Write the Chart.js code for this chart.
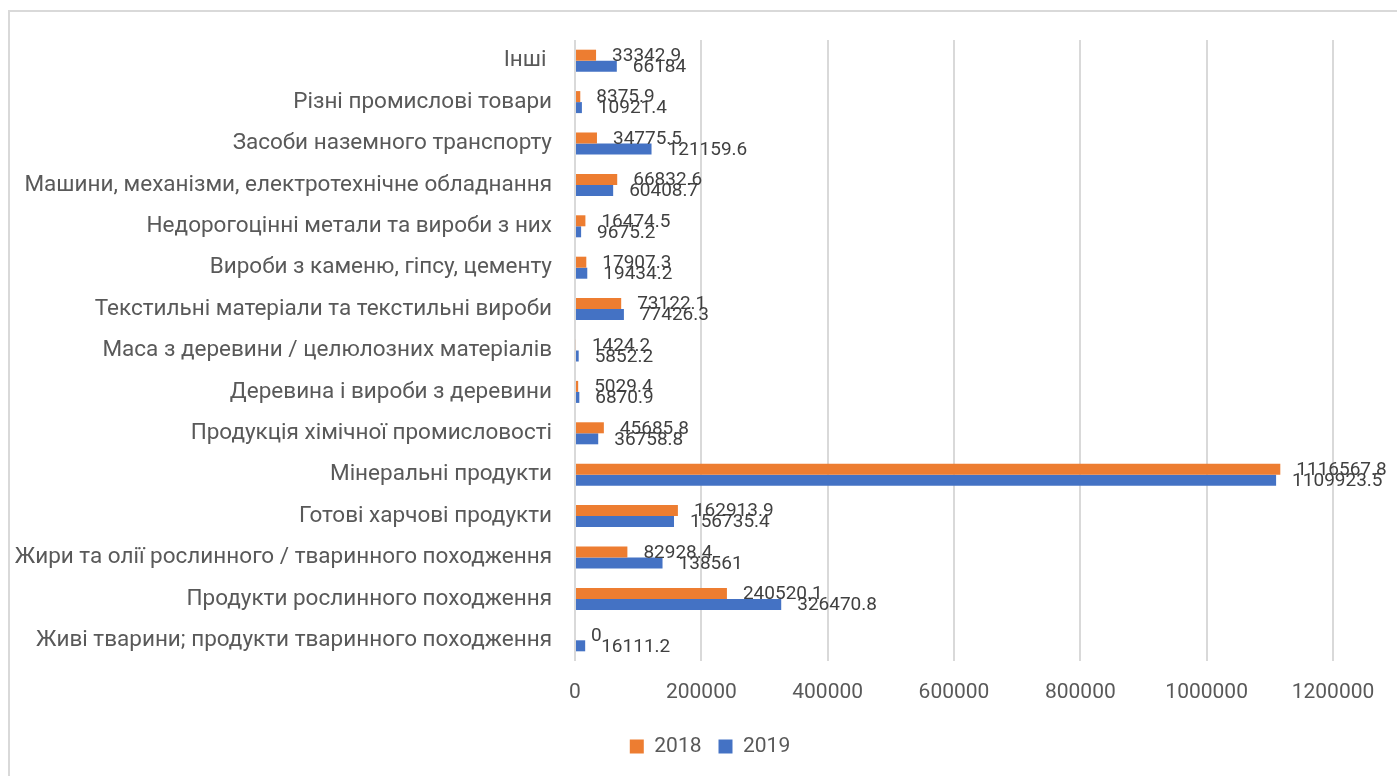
<!DOCTYPE html>
<html>
<head>
<meta charset="utf-8">
<script src="https://cdn.jsdelivr.net/npm/chart.js@4"></script>
<style>
  html, body { margin: 0; padding: 0; background: #fff; overflow: hidden; }
  #frame { position: absolute; left: 8px; top: 10px; width: 1500px; height: 900px; border: 2px solid #d9d9d9; }
  #wrap { position: absolute; left: 0; top: 0; width: 1397px; height: 776px; }
</style>
</head>
<body>
<div id="frame"></div>
<div id="wrap"><canvas id="exportChart" width="1397" height="776"></canvas></div>
<script>
const categories = [
  "Інші ",
  "Різні промислові товари",
  "Засоби наземного транспорту",
  "Машини, механізми, електротехнічне обладнання",
  "Недорогоцінні метали та вироби з них",
  "Вироби з каменю, гіпсу, цементу",
  "Текстильні матеріали та текстильні вироби",
  "Маса з деревини / целюлозних матеріалів",
  "Деревина і вироби з деревини",
  "Продукція хімічної промисловості",
  "Мінеральні продукти",
  "Готові харчові продукти",
  "Жири та олії рослинного / тваринного походження",
  "Продукти рослинного походження",
  "Живі тварини; продукти тваринного походження",
];

const values2018 = [
  33342.9, 8375.9, 34775.5, 66832.6, 16474.5, 17907.3, 73122.1, 1424.2,
  5029.4, 45685.8, 1116567.8, 162913.9, 82928.4, 240520.1, 0,
];

const values2019 = [
  66184, 10921.4, 121159.6, 60408.7, 9675.2, 19434.2, 77426.3, 5852.2,
  6870.9, 36758.8, 1109923.5, 156735.4, 138561, 326470.8, 16111.2,
];

const X_MAX = 1200000;
const X_STEP = 200000;

// value labels drawn just past the end of each bar
const valueLabels = {
  id: "valueLabels",
  afterDatasetsDraw(chart) {
    const ctx = chart.ctx;
    ctx.save();
    ctx.font = "19px Roboto";
    ctx.fillStyle = "#404040";
    ctx.textAlign = "left";
    ctx.textBaseline = "middle";
    chart.data.datasets.forEach((ds, i) => {
      chart.getDatasetMeta(i).data.forEach((bar, j) => {
        ctx.fillText(String(ds.data[j]), bar.x + 16, bar.y + 1);
      });
    });
    ctx.restore();
  },
};

const ctx = document.getElementById("exportChart").getContext("2d");

new Chart(ctx, {
  type: "bar",
  data: {
    labels: categories,
    datasets: [
      {
        label: "2018",
        data: values2018,
        backgroundColor: "#ED7D31",
        borderWidth: 0,
      },
      {
        label: "2019",
        data: values2019,
        backgroundColor: "#4472C4",
        borderWidth: 0,
      },
    ],
  },
  options: {
    indexAxis: "y",
    responsive: false,
    animation: false,
    devicePixelRatio: 1,
    layout: {
      padding: { left: 23, right: 0, top: 40, bottom: 9 },
    },
    datasets: {
      bar: {
        categoryPercentage: 0.532,
        barPercentage: 1,
      },
    },
    plugins: {
      legend: {
        position: "bottom",
        labels: {
          font: { family: "Roboto", size: 21 },
          color: "#595959",
          boxWidth: 14,
          boxHeight: 14,
          padding: 17,
        },
      },
      tooltip: { enabled: false },
    },
    scales: {
      x: {
        min: 0,
        max: X_MAX,
        ticks: {
          stepSize: X_STEP,
          padding: 19,
          color: "#595959",
          font: { family: "Roboto", size: 21 },
          maxRotation: 0,
          callback: (v) => String(v),
        },
        grid: {
          color: "#d9d9d9",
          lineWidth: 2,
          drawTicks: false,
        },
        border: { display: false },
        afterFit(scale) {
          scale.height = 58;
          scale.paddingRight = 64;
          scale.paddingLeft = 0;
        },
      },
      y: {
        ticks: {
          padding: 23,
          color: "#595959",
          font: { family: "Roboto", size: 22.5 },
          autoSkip: false,
        },
        grid: { display: false, drawTicks: false },
        border: { display: false },
        afterFit(scale) {
          scale.width = 552;
          // long labels run a bit into the left padding, don't clip them
          scale._computeLabelArea = () => undefined;
        },
      },
    },
  },
  plugins: [valueLabels],
});
</script>
</body>
</html>
